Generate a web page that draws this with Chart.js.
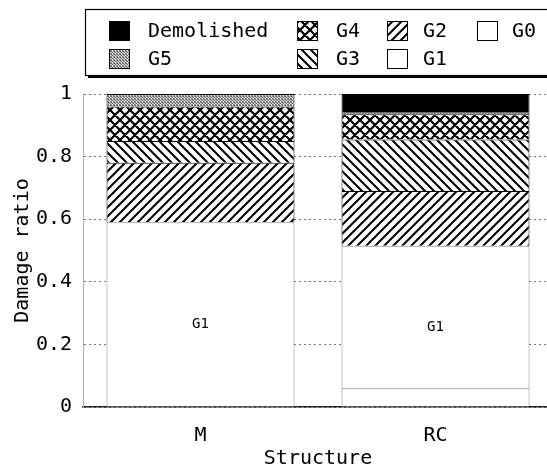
<!DOCTYPE html>
<html>
<head>
<meta charset="utf-8">
<script src="https://cdn.jsdelivr.net/npm/chart.js@4"></script>
<style>
  html, body { margin: 0; padding: 0; background: #fff; overflow: hidden; }
</style>
</head>
<body>
<!-- plot area runs a few pixels past the right edge of the window, like the cropped scan -->
<canvas id="my_chart" width="553" height="467"></canvas>
<script>
// damage ratio per structure type, stacked bottom (G0) to top (Demolished)
var structures = ['M', 'RC']
var g0 = [0, 0.06]
var g1 = [0.59, 0.455]
var g2 = [0.19, 0.175]
var g3 = [0.07, 0.165]
var g4 = [0.11, 0.08]
var g5 = [0.04, 0.005]
var demolished = [0, 0.06]

var y_ticks = [0, 0.2, 0.4, 0.6, 0.8, 1]
// legend is laid out in columns of two rows
var legend_columns = [['Demolished', 'G5'], ['G4', 'G3'], ['G2', 'G1'], ['G0']]

const FONT = 'DejaVu Sans Mono'

function make_pattern(kind) {
  var c = document.createElement('canvas')
  var s = kind == 'cross' ? 10 : 9
  if (kind == 'stipple') s = 3
  c.width = s
  c.height = s
  var p = c.getContext('2d')
  p.fillStyle = '#fff'
  p.fillRect(0, 0, s, s)
  if (kind == 'stipple') {
    var shades = ['#555', '#ccc', '#888', '#bbb', '#666', '#ddd', '#999', '#eee', '#777']
    for (var i = 0; i < 9; i++) {
      p.fillStyle = shades[i]
      p.fillRect(i % 3, Math.floor(i / 3), 1, 1)
    }
  } else {
    p.strokeStyle = '#000'
    p.lineWidth = kind == 'cross' ? 2.2 : 2
    p.beginPath()
    for (var o of [-s, 0, s]) {
      if (kind == 'slash' || kind == 'cross') {
        p.moveTo(o - 1, s + 1)
        p.lineTo(o + s + 1, -1)
      }
      if (kind == 'back' || kind == 'cross') {
        p.moveTo(o - 1, -1)
        p.lineTo(o + s + 1, s + 1)
      }
    }
    p.stroke()
  }
  return p.createPattern(c, 'repeat')
}

var styles = {
  'G0': { fill: '#fff', border: '#888' },
  'G1': { fill: '#fff', border: '#888' },
  'G2': { fill: make_pattern('slash'), border: '#000' },
  'G3': { fill: make_pattern('back'), border: '#000' },
  'G4': { fill: make_pattern('cross'), border: '#000' },
  'G5': { fill: make_pattern('stipple'), border: '#000' },
  'Demolished': { fill: '#000', border: '#000' }
}

var series = [
  ['G0', g0], ['G1', g1], ['G2', g2], ['G3', g3], ['G4', g4], ['G5', g5], ['Demolished', demolished]
]

var datasets = series.map(function (s) {
  return {
    label: s[0],
    data: s[1],
    backgroundColor: styles[s[0]].fill,
    borderColor: styles[s[0]].border,
    borderWidth: 1,
    barPercentage: 0.8,
    categoryPercentage: 1.0
  }
})

// writes "G1" inside the G1 segments
const segment_labels = {
  id: 'segment_labels',
  afterDatasetsDraw(chart) {
    var ctx = chart.ctx
    var idx = datasets.findIndex(d => d.label == 'G1')
    var meta = chart.getDatasetMeta(idx)
    ctx.save()
    ctx.font = '14px "' + FONT + '"'
    ctx.fillStyle = '#000'
    ctx.textAlign = 'center'
    ctx.textBaseline = 'middle'
    meta.data.forEach(function (el) {
      ctx.fillText('G1', el.x, (el.y + el.base) / 2 + 10)
    })
    ctx.restore()
  }
}

// boxed legend with drop shadow, column-major order
const boxed_legend = {
  id: 'boxed_legend',
  afterDraw(chart) {
    var ctx = chart.ctx
    ctx.save()
    ctx.fillStyle = '#000'
    ctx.fillRect(88, 12, 470, 66)
    ctx.fillStyle = '#fff'
    ctx.fillRect(85, 9, 470, 66)
    ctx.strokeStyle = '#000'
    ctx.lineWidth = 1.2
    ctx.strokeRect(85.5, 9.5, 470, 66)

    var col_x = [109, 297, 387, 477]
    var text_dx = [39, 39, 36, 35]
    var row_y = [31, 59]
    ctx.font = '20px "' + FONT + '"'
    ctx.textBaseline = 'middle'
    ctx.textAlign = 'left'
    legend_columns.forEach(function (col, ci) {
      col.forEach(function (name, ri) {
        var x = col_x[ci], y = row_y[ri]
        ctx.fillStyle = styles[name].fill
        ctx.fillRect(x, y - 10, 21, 20)
        ctx.strokeStyle = '#000'
        ctx.lineWidth = 1
        ctx.strokeRect(x + 0.5, y - 9.5, 20, 19)
        ctx.fillStyle = '#000'
        ctx.fillText(name, x + text_dx[ci], y + 1)
      })
    })
    ctx.restore()
  }
}

ctx = document.getElementById('my_chart').getContext('2d')
my_chart = new Chart(ctx, {
  type: 'bar',
  data: {
    labels: structures,
    datasets: datasets
  },
  options: {
    responsive: false,
    animation: false,
    layout: { padding: { top: 94, left: 0, right: 0, bottom: 0 } },
    plugins: {
      legend: { display: false },
      tooltip: { enabled: false }
    },
    scales: {
      x: {
        stacked: true,
        grid: { display: false },
        border: { color: '#222', width: 1.5 },
        ticks: { font: { family: FONT, size: 20 }, color: '#000', padding: 9 },
        title: {
          display: true, text: 'Structure', color: '#000', padding: 0,
          font: { family: FONT, size: 20, lineHeight: 0.8 }
        },
        afterFit: function (scale) { scale.height = 60 }
      },
      y: {
        stacked: true,
        min: 0,
        max: 1,
        afterBuildTicks: function (scale) { scale.ticks = y_ticks.map(v => ({ value: v })) },
        ticks: {
          font: { family: FONT, size: 20 },
          color: '#000',
          padding: 11,
          callback: function (v) { return String(+v.toFixed(1)) }
        },
        grid: { color: '#777', lineWidth: 1, drawTicks: false },
        border: { color: '#aaa', width: 1, dash: [2, 3] },
        title: {
          display: true, text: 'Damage ratio', color: '#000', padding: { top: 11 },
          font: { family: FONT, size: 20 }
        },
        afterFit: function (scale) { scale.width = 83 }
      }
    }
  },
  plugins: [segment_labels, boxed_legend]
})
</script>
</body>
</html>
